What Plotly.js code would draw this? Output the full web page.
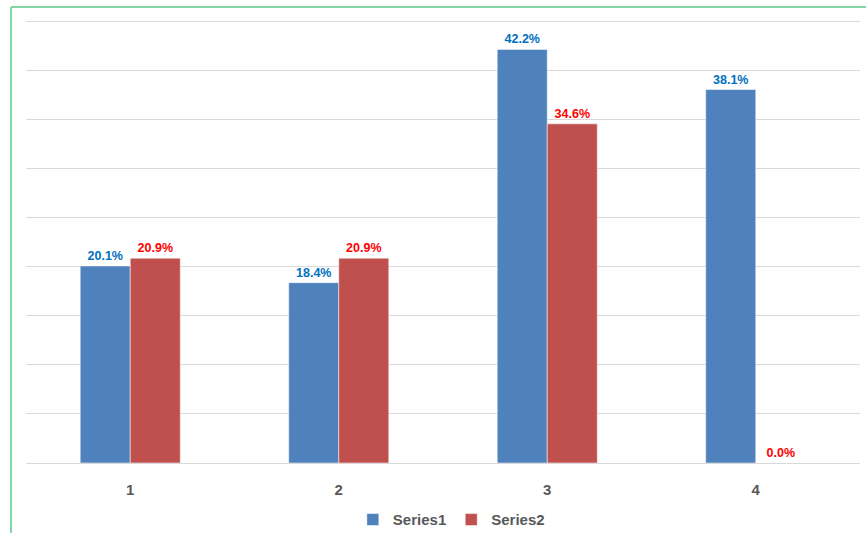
<!DOCTYPE html>
<html>
<head>
<meta charset="utf-8">
<script src="https://cdn.plot.ly/plotly-3.0.1.min.js"></script>
<style>
html,body{margin:0;padding:0;background:#fff;}
#chart{width:866px;height:533px;}
</style>
</head>
<body>
<div id="chart"></div>
<script>
const categories = ["1", "2", "3", "4"];
const series1 = [20.1, 18.4, 42.2, 38.1];
const series2 = [20.9, 20.9, 34.6, 0.0];
const seriesNames = ["Series1", "Series2"];

const labelFont = "Liberation Sans, Arial, sans-serif";

const traces = [
  {
    type: "bar", name: seriesNames[0], x: categories, y: series1,
    marker: {color: "#4F81BD", line: {color: "rgba(255,255,255,0.5)", width: 1}},
    texttemplate: "%{y:.1f}%", textposition: "outside", cliponaxis: false,
    textfont: {family: labelFont, size: 12.5, color: "#0070C0", weight: "bold"},
    hoverinfo: "none"
  },
  {
    type: "bar", name: seriesNames[1], x: categories, y: series2,
    marker: {color: "#C0504D", line: {color: "rgba(255,255,255,0.5)", width: 1}},
    texttemplate: "%{y:.1f}%", textposition: "outside", cliponaxis: false,
    textfont: {family: labelFont, size: 12.5, color: "#FF0000", weight: "bold"},
    hoverinfo: "none"
  }
];

const layout = {
  width: 866, height: 533,
  margin: {l: 26, r: 6, t: 19, b: 70, autoexpand: false},
  paper_bgcolor: "#ffffff", plot_bgcolor: "#ffffff",
  barmode: "group", bargap: 0.52, bargroupgap: 0,
  showlegend: true,
  legend: {orientation: "h", x: 0.51, xanchor: "center", y: -0.128, yanchor: "middle",
           font: {family: labelFont, size: 15, color: "#595959", weight: "bold"},
           itemwidth: 30, tracegroupgap: 0, traceorder: "normal"},
  xaxis: {type: "category", showgrid: false, zeroline: false, showline: false,
          ticks: "", ticklabelstandoff: 16,
          tickfont: {family: labelFont, size: 15, color: "#595959", weight: "bold"}},
  yaxis: {range: [0, 45.3], dtick: 5, showticklabels: false, showgrid: true,
          gridcolor: "#d9d9d9", gridwidth: 1, zeroline: true, zerolinecolor: "#d9d9d9",
          zerolinewidth: 1, showline: false, ticks: ""},
  shapes: [
    {type: "line", xref: "paper", yref: "paper", x0: -0.018, x1: -0.018, y0: 1.027, y1: -0.2,
     line: {color: "#82D6A4", width: 2}},
    {type: "line", xref: "paper", yref: "paper", x0: -0.018, x1: 1.01, y0: 1.027, y1: 1.027,
     line: {color: "#82D6A4", width: 2}}
  ]
};

Plotly.newPlot("chart", traces, layout, {displayModeBar: false, staticPlot: true});
</script>
</body>
</html>
